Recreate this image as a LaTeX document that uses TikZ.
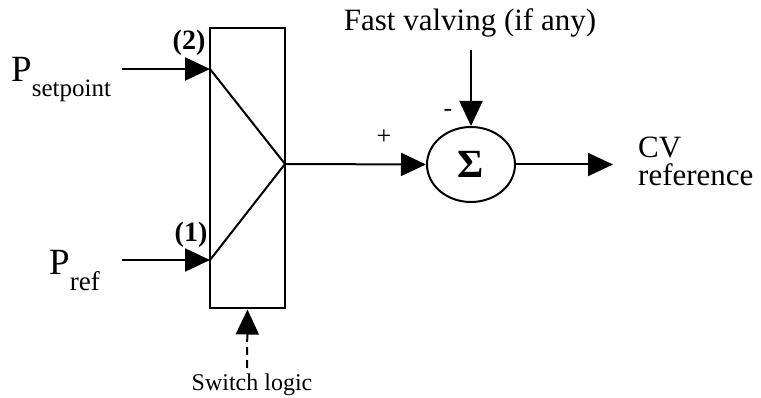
\documentclass[tikz,border=0pt]{standalone}
\usepackage{fontspec}
\setmainfont{Liberation Serif}
\usetikzlibrary{arrows.meta,positioning,calc,shapes.geometric}
\tikzset{
  blk/.style={rectangle, draw, line width=2pt, minimum width=75pt, minimum height=280pt, inner sep=0pt},
  sumnode/.style={ellipse, draw, line width=2pt, minimum width=88pt, minimum height=75pt, inner sep=0pt, font=\fontsize{40}{40}\selectfont\bfseries},
  lbl/.style={inner sep=0pt, font=\fontsize{31}{34}\selectfont},
  num/.style={inner sep=0pt, font=\fontsize{28}{30}\selectfont\bfseries},
  sgn/.style={inner sep=0pt, font=\fontsize{26}{28}\selectfont},
  small/.style={inner sep=0pt, font=\fontsize{24}{26}\selectfont},
  arrow/.style={-{Triangle[length=25pt,width=23pt]}, line width=2pt},
  wire/.style={line width=2pt},
  dasharrow/.style={arrow, dash pattern=on 8pt off 5pt}
}
\begin{document}
\begin{tikzpicture}[x=1pt, y=-1pt]
  \useasboundingbox (0,0) rectangle (761,398);
  % switch block
  \node[blk] (sw) at (247.5,168.5) {};
  \coordinate (a2) at (210,69);
  \coordinate (a1) at (210,260);
  \coordinate (ap) at (285,164);
  \draw[wire] (a2) -- (ap) -- (a1);
  % inputs
  \coordinate (s2) at (122,69);
  \coordinate (s1) at (122,260);
  \node[lbl, anchor=base west] (pset) at (11,82)
    {{\fontsize{37}{40}\selectfont P}\raisebox{-15pt}{\fontsize{25}{28}\selectfont setpoint}};
  \node[lbl, anchor=base west] (pref) at (49,275)
    {{\fontsize{37}{40}\selectfont P}\raisebox{-16pt}{\fontsize{27}{28}\selectfont ref}};
  \node[num] (n2) at (189,43) {(2)};
  \node[num] (n1) at (191,235) {(1)};
  \draw[arrow] (s2) -- (a2);
  \draw[arrow] (s1) -- (a1);
  % summing junction
  \node[sumnode] (sum) at (471,164.5) {Σ};
  \draw[arrow] (ap) -- (sum.west);
  \node[sgn] (plus) at (384,137) {+};
  \node[sgn] (minus) at (448,113) {-};
  \coordinate (fv) at (471,50);
  \node[lbl, anchor=base] (fvt) at (470,31) {Fast valving (if any)};
  \draw[arrow] (fv) -- (sum.north);
  % output
  \coordinate (cv) at (613,164.5);
  \draw[arrow] (sum.east) -- (cv);
  \node[lbl, anchor=base west] (cvt) at (638,158) {CV};
  \node[lbl, anchor=base west] (reft) at (638,186) {reference};
  % switch logic
  \coordinate (sl) at (247,368);
  \draw[dasharrow] (sl) -- (sw.south);
  \node[small, anchor=base] (slt) at (252,390) {Switch logic};
\end{tikzpicture}
\end{document}
